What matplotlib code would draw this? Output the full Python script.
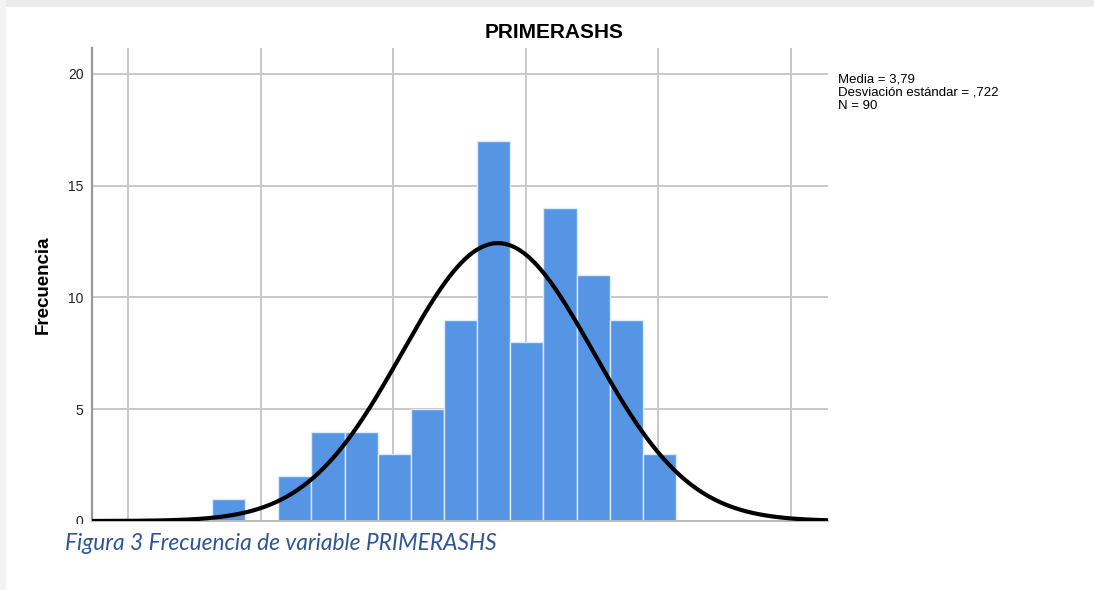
import numpy as np
import matplotlib.pyplot as plt
from matplotlib.patches import Rectangle

# bins del histograma (ancho 0,25)
bin_start = 1.633
bin_width = 0.25
frecuencias = [1, 0, 2, 4, 4, 3, 5, 9, 17, 8, 14, 11, 9, 3]

media = 3.79
desv = 0.722
n = 90

W, H = 1094, 590
fig = plt.figure(figsize=(W / 100, H / 100), dpi=100)
fig.patch.set_facecolor("white")

# bordes grises de la captura
fig.add_artist(Rectangle((0, 1 - 7 / H), 1, 7 / H, transform=fig.transFigure,
                         facecolor="#ebebeb", edgecolor="none", zorder=0))
fig.add_artist(Rectangle((0, 0), 6 / W, 1, transform=fig.transFigure,
                         facecolor="#f3f3f3", edgecolor="none", zorder=0))

ax = fig.add_axes([92 / W, 1 - 521 / H, (828 - 92) / W, (521 - 48) / H])

edges = bin_start + bin_width * np.arange(len(frecuencias))
ax.bar(edges, frecuencias, width=bin_width, align="edge", color="#5695e3",
       edgecolor="#dce9f8", linewidth=1, zorder=2)

x_lo, x_hi = 0.7285, 6.279
xs = np.linspace(x_lo, x_hi, 400)
ys = n * bin_width / (desv * np.sqrt(2 * np.pi)) * np.exp(-0.5 * ((xs - media) / desv) ** 2)
ax.plot(xs, ys, color="black", linewidth=3, zorder=3, solid_capstyle="butt")

ax.set_xlim(x_lo, x_hi)
ax.set_ylim(0, 21.16)
ax.set_xticks([1, 2, 3, 4, 5, 6])
ax.set_yticks([0, 5, 10, 15, 20])
ax.set_xticklabels([])
ax.grid(True, color="#c8c8c8", linewidth=1.4, zorder=1)
ax.set_axisbelow(True)
ax.tick_params(length=0, labelsize=10, pad=6, colors="#222222")
for s in ["top", "right"]:
    ax.spines[s].set_visible(False)
ax.spines["left"].set_color("#999999")
ax.spines["left"].set_linewidth(1.6)
ax.spines["bottom"].set_color("#bbbbbb")
ax.spines["bottom"].set_linewidth(1.4)
for lbl in ax.get_yticklabels():
    lbl.set_family("Liberation Sans")

ax.set_ylabel("Frecuencia", fontsize=13.5, fontweight="bold", family="Liberation Sans", labelpad=12)

fig.text(554 / W, 1 - 33 / H, "PRIMERASHS", ha="center", va="center", fontsize=15,
         fontweight="bold", family="Liberation Sans")

fig.text(838 / W, 1 - 74 / H, "Media = 3,79\nDesviación estándar = ,722\nN = 90",
         ha="left", va="top", fontsize=9.5, linespacing=1.1, family="Liberation Sans")

# tapa la parte inferior del eje (captura recortada)
fig.add_artist(Rectangle((0, 0), 1, 1 - 524 / H, transform=fig.transFigure,
                         facecolor="white", edgecolor="none", zorder=5))
fig.add_artist(Rectangle((0, 0), 6 / W, 1 - 524 / H, transform=fig.transFigure,
                         facecolor="#f3f3f3", edgecolor="none", zorder=5))

fig.text(65 / W, 1 - 543 / H, "Figura 3 Frecuencia de variable PRIMERASHS",
         ha="left", va="center", fontsize=16.4, style="italic", color="#2f5597",
         family="Lato", zorder=6)

fig.savefig("out.png", dpi=100)
